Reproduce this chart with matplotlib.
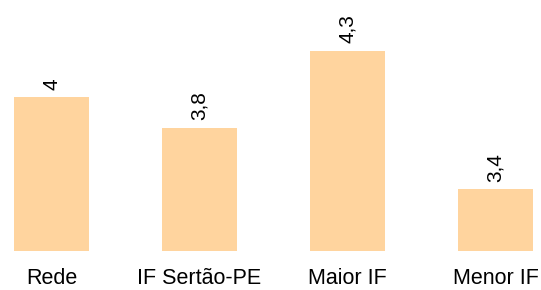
import matplotlib.pyplot as plt

categorias = ['Rede', 'IF Sertão-PE', 'Maior IF', 'Menor IF']
valores = [4.0, 3.8, 4.3, 3.4]
rotulos = ['4', '3,8', '4,3', '3,4']

plt.rcParams['font.family'] = ['Liberation Sans', 'DejaVu Sans']

fig = plt.figure(figsize=(5.41, 2.90), dpi=100)
ax = fig.add_axes([0, 39/290, 1, 1 - 39/290])

x = range(len(categorias))
bars = ax.bar(x, valores, width=75/148, color='#FFD49E')

for b, txt in zip(bars, rotulos):
    ax.annotate(txt, (b.get_x() + b.get_width()/2, b.get_height()),
                xytext=(0, 5.5), textcoords='offset points',
                ha='center', va='bottom', rotation=90, fontsize=15)

ax.set_xlim(-51.5/148, (541 - 51.5)/148)
ax.set_ylim(3.0, 4.632)
ax.set_xticks(list(x))
ax.set_xticklabels(categorias, fontsize=15.5)
ax.tick_params(axis='x', length=0, pad=12.5)
ax.set_yticks([])
for s in ax.spines.values():
    s.set_visible(False)

fig.savefig('out.png', dpi=100)
